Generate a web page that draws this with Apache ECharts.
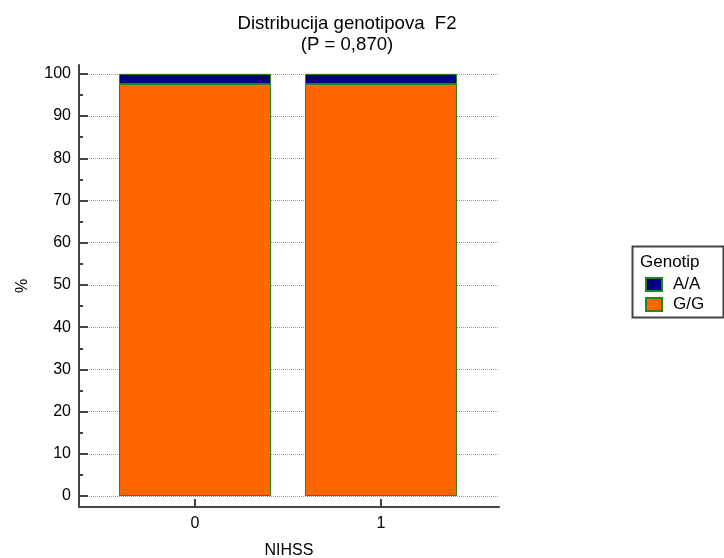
<!DOCTYPE html>
<html>
<head>
<meta charset="utf-8">
<script src="https://cdn.jsdelivr.net/npm/echarts@6/dist/echarts.min.js"></script>
<style>html,body{margin:0;padding:0;background:#fff}#c{width:724px;height:558px}</style>
</head>
<body>
<div id="c"></div>
<script>
const categories = ['0', '1'];
const seriesNames = ['A/A', 'G/G'];
const valuesAA = [2.4, 2.4];
const valuesGG = [97.6, 97.6];
const yTickLabels = [0, 10, 20, 30, 40, 50, 60, 70, 80, 90, 100];
const yMinorTicks = [5, 15, 25, 35, 45, 55, 65, 75, 85, 95];
const xTickLabels = [0, 1];

const FONT = '"Liberation Sans", Arial, sans-serif';
const chart = echarts.init(document.getElementById('c'), null, {renderer: 'canvas'});
const borderGreen = '#1a8a1a';
const axisColor = '#444';
const Y_MIN = -2.6, Y_MAX = 102.1;

chart.setOption({
  animation: false,
  backgroundColor: '#fff',
  title: {
    text: 'Distribucija genotipova  F2\n(P = 0,870)',
    left: 342, top: 8, textAlign: 'center',
    textStyle: {fontFamily: FONT, fontSize: 18.6, fontWeight: 'normal', color: '#000', lineHeight: 21}
  },
  grid: [
    {left: 79, top: 65, width: 420, height: 442, containLabel: false, outerBoundsMode: 'none'},
    {left: 102, top: 65, width: 372, height: 442, containLabel: false, outerBoundsMode: 'none'}
  ],
  xAxis: [{
    gridIndex: 0,
    type: 'value', min: -0.624, max: 1.634,
    name: 'NIHSS', nameLocation: 'middle', nameGap: 36,
    nameTextStyle: {fontFamily: FONT, fontSize: 16, color: '#000'},
    axisLine: {show: true, onZero: false, lineStyle: {color: axisColor, width: 2}},
    axisTick: {show: true, inside: true, length: 8, lineStyle: {color: axisColor, width: 2}, customValues: xTickLabels},
    axisLabel: {fontFamily: FONT, fontSize: 16, color: '#000', margin: 9, customValues: xTickLabels},
    splitLine: {show: false}
  }, {
    gridIndex: 1,
    type: 'category', data: categories, boundaryGap: true,
    axisLine: {show: false}, axisTick: {show: false}, axisLabel: {show: false}, splitLine: {show: false}
  }],
  yAxis: [{
    gridIndex: 0,
    type: 'value', min: Y_MIN, max: Y_MAX,
    name: '%', nameLocation: 'middle', nameGap: 48, nameRotate: 90,
    nameTextStyle: {fontFamily: FONT, fontSize: 16, color: '#000'},
    axisLine: {show: true, onZero: false, lineStyle: {color: axisColor, width: 2}},
    axisTick: {show: true, inside: true, length: 9, lineStyle: {color: axisColor, width: 2}, customValues: yTickLabels},
    axisLabel: {fontFamily: FONT, fontSize: 16, color: '#000', margin: 8, customValues: yTickLabels},
    splitLine: {show: true, lineStyle: {color: '#999', width: 1, type: [1, 1]}}
  }, {
    gridIndex: 0,
    type: 'value', min: Y_MIN, max: Y_MAX, position: 'left',
    axisLine: {show: false, onZero: false},
    axisTick: {show: true, inside: true, length: 4, lineStyle: {color: axisColor, width: 2}, customValues: yMinorTicks},
    axisLabel: {show: false},
    splitLine: {show: false}
  }, {
    gridIndex: 1,
    type: 'value', min: Y_MIN, max: Y_MAX,
    axisLine: {show: false, onZero: false}, axisTick: {show: false}, axisLabel: {show: false}, splitLine: {show: false}
  }],
  legend: {
    orient: 'vertical', left: 640, top: 271,
    itemWidth: 16, itemHeight: 13, itemGap: 3, icon: 'rect',
    data: seriesNames,
    textStyle: {fontFamily: FONT, fontSize: 17, color: '#000', padding: [0, 0, 0, 6]},
    selectedMode: false
  },
  graphic: [
    {type: 'rect', left: 630, top: 244, shape: {width: 91, height: 71}, style: {fill: 'none', stroke: '#444', lineWidth: 2}, z: 100},
    {type: 'text', left: 640, top: 254, style: {text: 'Genotip', font: '17px ' + FONT, fill: '#000'}, z: 100}
  ],
  series: [
    {
      name: 'G/G', type: 'bar', stack: 'g', barWidth: 152, xAxisIndex: 1, yAxisIndex: 2,
      data: valuesGG,
      itemStyle: {color: '#ff6600', borderColor: borderGreen, borderWidth: 1}
    },
    {
      name: 'A/A', type: 'bar', stack: 'g', barWidth: 152, xAxisIndex: 1, yAxisIndex: 2,
      data: valuesAA,
      itemStyle: {color: '#000080', borderColor: borderGreen, borderWidth: 1}
    }
  ]
});
</script>
</body>
</html>
